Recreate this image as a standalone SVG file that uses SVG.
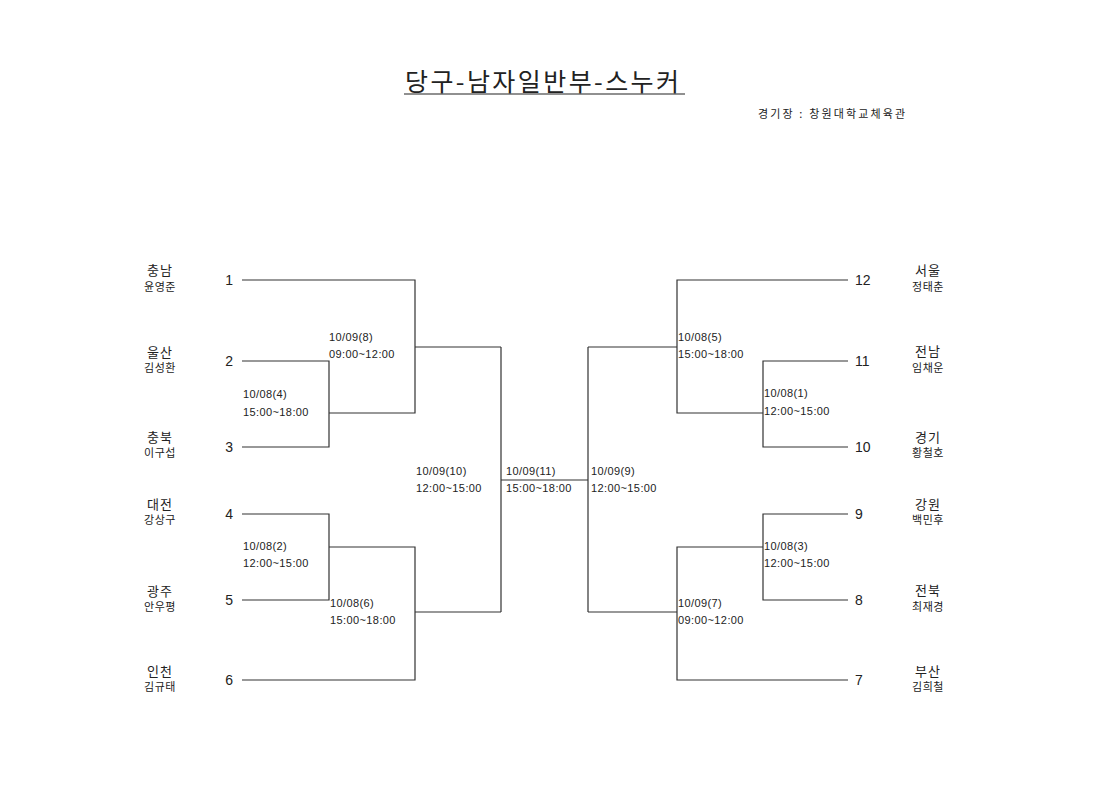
<svg xmlns="http://www.w3.org/2000/svg" width="1120" height="792" viewBox="0 0 1120 792">
<style>
text{font-family:"Noto Sans CJK KR","Noto Sans",sans-serif;fill:#222}
.t{font-size:25px}
.s{font-size:11px}
.n{font-size:14px;font-family:"Liberation Sans",sans-serif}
.p{font-size:13px;text-anchor:middle;letter-spacing:1px}
.q{font-size:11px;text-anchor:middle;letter-spacing:0.5px}
.l{font-size:11px;font-family:"Liberation Sans",sans-serif;letter-spacing:0.4px}
.c path{fill:none;stroke:#333;stroke-width:1.2}
</style>
<rect width="1120" height="792" fill="#fff"/>
<g id="title">
<text class="t" x="405" y="91" textLength="274" lengthAdjust="spacing">당구-남자일반부-스누커</text>
<line x1="404" y1="94" x2="685" y2="94" stroke="#222" stroke-width="1.2"/>
<text class="s" x="758" y="118" textLength="147" lengthAdjust="spacing">경기장 : 창원대학교체육관</text>
</g>
<g class="c" id="connectors">
<path d="M242 280H415V413H329M242 361H329V447H242M415 347H501"/>
<path d="M242 514H329V600H242M329 547H415V680H242M415 612H501"/>
<path d="M501 347V612M501 480H588M588 347V612"/>
<path d="M588 347H677M588 612H677"/>
<path d="M848 280H677V413H763M848 361H763V447H848"/>
<path d="M848 514H763V600H848M763 547H677V680H848"/>
</g>
<g id="n1"><text class="p" x="160" y="275">충남</text><text class="q" x="160" y="291">윤영준</text><text class="n" x="233" y="285" text-anchor="end">1</text></g>
<g id="n2"><text class="p" x="160" y="357">울산</text><text class="q" x="160" y="372">김성환</text><text class="n" x="233" y="366" text-anchor="end">2</text></g>
<g id="n3"><text class="p" x="160" y="442">충북</text><text class="q" x="160" y="457">이구섭</text><text class="n" x="233" y="452" text-anchor="end">3</text></g>
<g id="n4"><text class="p" x="160" y="509">대전</text><text class="q" x="160" y="524">강상구</text><text class="n" x="233" y="519" text-anchor="end">4</text></g>
<g id="n5"><text class="p" x="160" y="596">광주</text><text class="q" x="160" y="611">안우평</text><text class="n" x="233" y="605" text-anchor="end">5</text></g>
<g id="n6"><text class="p" x="160" y="676">인천</text><text class="q" x="160" y="691">김규태</text><text class="n" x="233" y="685" text-anchor="end">6</text></g>
<g id="n12"><text class="p" x="928" y="275">서울</text><text class="q" x="928" y="291">정태춘</text><text class="n" x="855" y="285">12</text></g>
<g id="n11"><text class="p" x="928" y="356">전남</text><text class="q" x="928" y="372">임채운</text><text class="n" x="855" y="366">11</text></g>
<g id="n10"><text class="p" x="928" y="442">경기</text><text class="q" x="928" y="457">황철호</text><text class="n" x="855" y="452">10</text></g>
<g id="n9"><text class="p" x="928" y="509">강원</text><text class="q" x="928" y="524">백민후</text><text class="n" x="855" y="519">9</text></g>
<g id="n8"><text class="p" x="928" y="595">전북</text><text class="q" x="928" y="611">최재경</text><text class="n" x="855" y="605">8</text></g>
<g id="n7"><text class="p" x="928" y="676">부산</text><text class="q" x="928" y="691">김희철</text><text class="n" x="855" y="685">7</text></g>
<g id="m8"><text class="l" x="329" y="341">10/09(8)</text><text class="l" x="329" y="358">09:00~12:00</text></g>
<g id="m4"><text class="l" x="243" y="398">10/08(4)</text><text class="l" x="243" y="416">15:00~18:00</text></g>
<g id="m2"><text class="l" x="243" y="550">10/08(2)</text><text class="l" x="243" y="567">12:00~15:00</text></g>
<g id="m6"><text class="l" x="330" y="607">10/08(6)</text><text class="l" x="330" y="624">15:00~18:00</text></g>
<g id="m10"><text class="l" x="416" y="475">10/09(10)</text><text class="l" x="416" y="492">12:00~15:00</text></g>
<g id="m11"><text class="l" x="506" y="475">10/09(11)</text><text class="l" x="506" y="492">15:00~18:00</text></g>
<g id="m9"><text class="l" x="591" y="475">10/09(9)</text><text class="l" x="591" y="492">12:00~15:00</text></g>
<g id="m5"><text class="l" x="678" y="341">10/08(5)</text><text class="l" x="678" y="358">15:00~18:00</text></g>
<g id="m1"><text class="l" x="764" y="397">10/08(1)</text><text class="l" x="764" y="415">12:00~15:00</text></g>
<g id="m3"><text class="l" x="764" y="550">10/08(3)</text><text class="l" x="764" y="567">12:00~15:00</text></g>
<g id="m7"><text class="l" x="678" y="607">10/09(7)</text><text class="l" x="678" y="624">09:00~12:00</text></g>
</svg>
